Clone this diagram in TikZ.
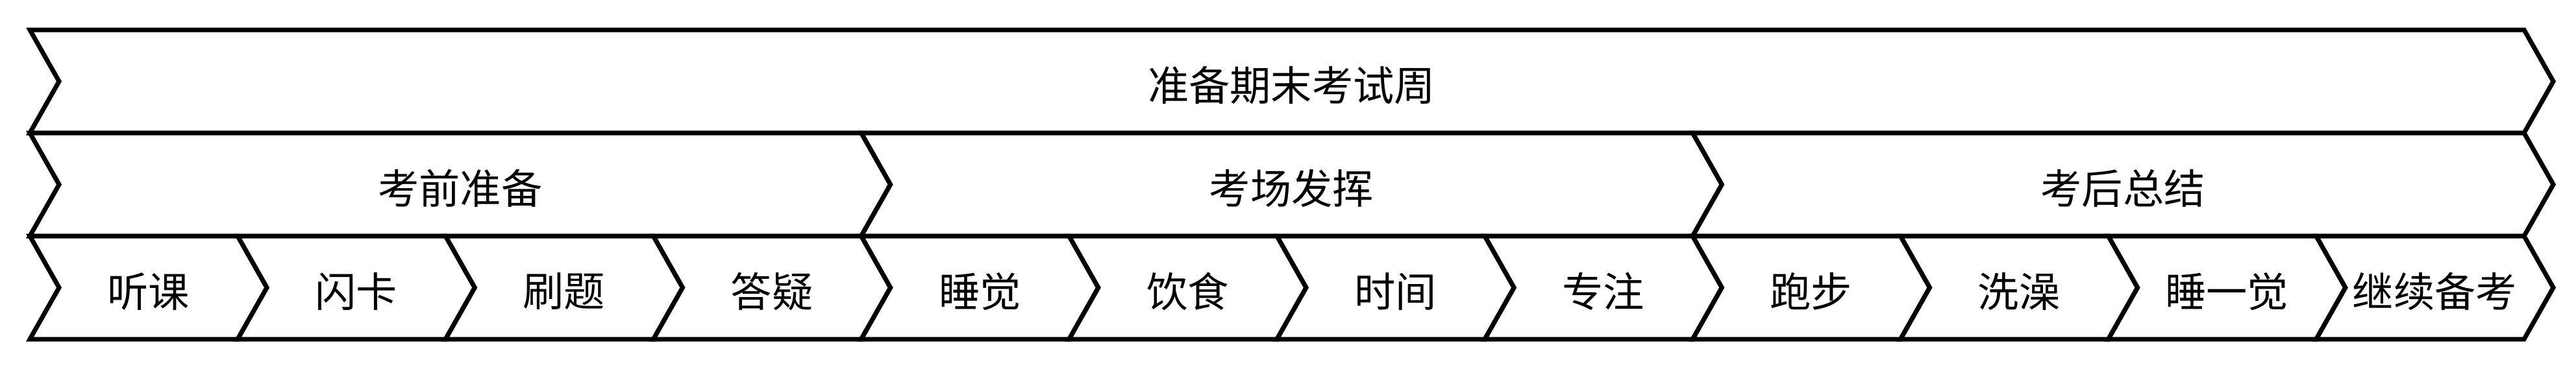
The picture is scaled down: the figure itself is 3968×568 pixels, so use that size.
\documentclass[tikz,border=0pt]{standalone}
\usepackage{fontspec}
\newfontfamily\cjk{Noto Sans CJK SC}
\tikzset{
  shp/.style={draw=black, line width=0.7mm, line join=miter, fill=white},
  lbl/.style={font=\cjk\fontsize{18pt}{20pt}\selectfont, inner sep=0pt}
}
\newcommand\chev[6]{%
  \draw[shp] (#1,#2) -- (#3,#2) -- ({#3+45},{(#2+#4)/2}) -- (#3,#4) -- (#1,#4) -- ({#1+45},{(#2+#4)/2}) -- cycle;
  \node[lbl] (#5) at ({(#1+#3+45)/2},{(#2+#4)/2+6}) {#6};}
\begin{document}
\begin{tikzpicture}[x=0.1mm,y=-0.1mm]
\useasboundingbox (0,0) rectangle (3968,568);
\chev{46}{46}{3888}{205}{top}{准备期末考试周}
\foreach \t [count=\i from 0] in {考前准备,考场发挥,考后总结}{
  \pgfmathsetmacro\xa{46+\i*1280.667}
  \pgfmathsetmacro\xb{46+(\i+1)*1280.667}
  \chev{\xa}{205}{\xb}{364}{mid\i}{\t}
}
\foreach \t [count=\i from 0] in {听课,闪卡,刷题,答疑,睡觉,饮食,时间,专注,跑步,洗澡,睡一觉,继续备考}{
  \pgfmathsetmacro\xa{46+\i*320.1667}
  \pgfmathsetmacro\xb{46+(\i+1)*320.1667}
  \chev{\xa}{364}{\xb}{523}{bot\i}{\t}
}
\end{tikzpicture}
\end{document}
